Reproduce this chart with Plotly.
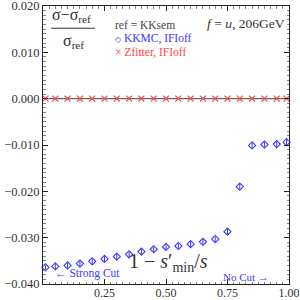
import plotly.graph_objects as go

x_vals = [0.01, 0.05, 0.10, 0.15, 0.20, 0.25, 0.30, 0.35, 0.40, 0.45, 0.50,
          0.55, 0.60, 0.65, 0.70, 0.75, 0.80, 0.85, 0.90, 0.95, 0.99]
kkmc = [-0.0364, -0.0362, -0.0360, -0.0356, -0.0351, -0.0346, -0.0341, -0.0336,
        -0.0330, -0.0325, -0.0320, -0.0318, -0.0314, -0.0309, -0.0303, -0.0287,
        -0.0190, -0.0101, -0.0099, -0.0098, -0.0094]
kkmc_err = [0.0006] * len(x_vals)
zfitter = [0.0] * len(x_vals)

y_ticks = [0.02, 0.01, 0.0, -0.01, -0.02, -0.03, -0.04]
x_ticks = [0.25, 0.50, 0.75, 1.00]
x_ticktext = ["0.25", "0.50", "0.75", "1.00"]

BLUE = "#3a3aff"
RED = "#ff4545"
DARK = "#333333"
FONT = "Liberation Serif"

fig = go.Figure()
fig.add_trace(go.Scatter(
    x=x_vals, y=zfitter, mode="markers",
    marker=dict(symbol="x-thin-open", size=6, line=dict(color=RED, width=1.2), color=RED),
    showlegend=False, cliponaxis=False))
fig.add_trace(go.Scatter(
    x=x_vals, y=kkmc, mode="markers",
    error_y=dict(type="data", array=kkmc_err, color=BLUE, thickness=1, width=0),
    marker=dict(symbol="diamond-open", size=5.5, line=dict(color=BLUE, width=1.1), color=BLUE),
    showlegend=False, cliponaxis=False))

axis_common = dict(
    showline=True, linecolor="#222222", linewidth=1, mirror="ticks",
    ticks="inside", ticklen=5, tickcolor="#222222", showgrid=False, zeroline=False,
    automargin=False, ticklabeloverflow="allow",
)
fig.update_xaxes(range=[0, 1], tickvals=x_ticks, ticktext=x_ticktext,
                 tickfont=dict(family=FONT, size=12, color=DARK), ticklabelstandoff=-2,
                 minor=dict(ticks="inside", ticklen=2.5, tickcolor="#888888", dtick=0.025),
                 **axis_common)
fig.update_yaxes(range=[-0.04, 0.02], tickvals=y_ticks, tickformat=".3f",
                 tickfont=dict(family=FONT, size=12.5, color=DARK),
                 minor=dict(ticks="inside", ticklen=2.5, tickcolor="#888888", dtick=0.001),
                 **axis_common)

# zero reference line
fig.add_hline(y=0, line=dict(color="#666666", width=1.2), layer="below")

# fraction label
fig.add_annotation(xref="paper", yref="paper", x=0.028, y=0.965, xanchor="left", yanchor="middle",
                   text="σ−σ<sub>ref</sub>", showarrow=False,
                   font=dict(family=FONT, size=16, color=DARK))
fig.add_shape(type="line", xref="paper", yref="paper", x0=0.033, x1=0.211, y0=0.92, y1=0.92,
              line=dict(color=DARK, width=1.2))
fig.add_annotation(xref="paper", yref="paper", x=0.122, y=0.872, xanchor="center", yanchor="middle",
                   text="σ<sub>ref</sub>", showarrow=False,
                   font=dict(family=FONT, size=16, color=DARK))

fig.add_annotation(xref="paper", yref="paper", x=0.283, y=0.931, xanchor="left", yanchor="middle",
                   text="ref = KKsem", showarrow=False,
                   font=dict(family=FONT, size=11.5, color="#444444"))
fig.add_annotation(xref="paper", yref="paper", x=0.283, y=0.884, xanchor="left", yanchor="middle",
                   text="<span style='font-size:8px'>◇</span> KKMC, IFIoff", showarrow=False,
                   font=dict(family=FONT, size=11.5, color=BLUE))
fig.add_annotation(xref="paper", yref="paper", x=0.283, y=0.834, xanchor="left", yanchor="middle",
                   text="× Zfitter, IFIoff", showarrow=False,
                   font=dict(family=FONT, size=11.5, color=RED))
fig.add_annotation(xref="paper", yref="paper", x=0.99, y=0.938, xanchor="right", yanchor="middle",
                   text="<i>f</i> = <i>u</i>, 206GeV", showarrow=False,
                   font=dict(family=FONT, size=13.5, color=DARK))

# x axis label inside plot
fig.add_annotation(xref="paper", yref="paper", x=0.34, y=0.078, xanchor="left", yanchor="middle",
                   text="1 − <i>s</i>′<sub>min</sub>/<i>s</i>", showarrow=False,
                   font=dict(family=FONT, size=20, color=DARK))

fig.add_annotation(xref="paper", yref="paper", x=0.04, y=0.037, xanchor="left", yanchor="middle",
                   text="← Strong Cut", showarrow=False,
                   font=dict(family=FONT, size=11.5, color=BLUE))
fig.add_annotation(xref="paper", yref="paper", x=0.928, y=0.026, xanchor="right", yanchor="middle",
                   text="No Cut →", showarrow=False,
                   font=dict(family=FONT, size=11, color=BLUE))

fig.update_layout(
    width=300, height=300,
    margin=dict(l=43, r=11, t=6, b=16),
    plot_bgcolor="white", paper_bgcolor="white",
    font=dict(family=FONT, color=DARK),
)

fig.write_html("out.html", config={"displayModeBar": False},
               post_script="document.body.style.margin='0';document.body.style.overflow='hidden';")
